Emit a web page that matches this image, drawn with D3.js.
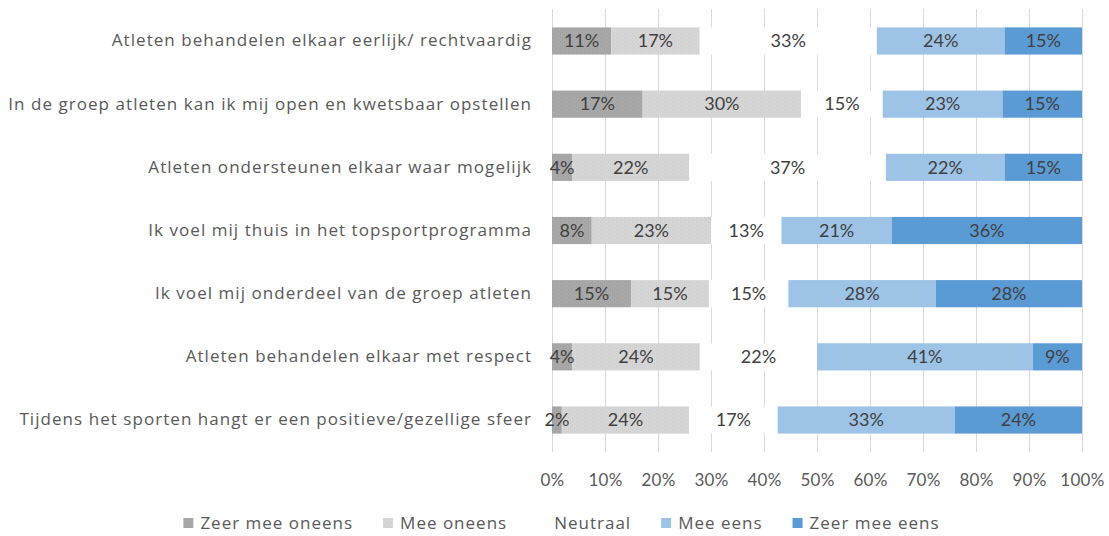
<!DOCTYPE html>
<html>
<head>
<meta charset="utf-8">
<script src="https://cdn.jsdelivr.net/npm/d3@7"></script>
<style>
  body { margin: 0; background: #fff; }
  text { font-family: Lato, "Open Sans", sans-serif; }
</style>
</head>
<body>
<div class="d3-container"></div>
<script>
const categories = [
    "Atleten behandelen elkaar eerlijk/ rechtvaardig",
    "In de groep atleten kan ik mij open en kwetsbaar opstellen",
    "Atleten ondersteunen elkaar waar mogelijk",
    "Ik voel mij thuis in het topsportprogramma",
    "Ik voel mij onderdeel van de groep atleten",
    "Atleten behandelen elkaar met respect",
    "Tijdens het sporten hangt er een positieve/gezellige sfeer"
]
const seriesNames = ["Zeer mee oneens", "Mee oneens", "Neutraal", "Mee eens", "Zeer mee eens"]
const zeerOneens = [11.15, 17.1, 3.8, 7.5, 14.9, 3.8, 1.85]
const meeOneens = [16.7, 29.9, 22.1, 22.5, 14.7, 24.1, 24.0]
const neutraal = [33.4, 15.4, 37.1, 13.3, 15.0, 22.1, 16.7]
const meeEens = [24.1, 22.6, 22.4, 20.8, 27.8, 40.7, 33.4]
const zeerEens = [14.6, 15.0, 14.6, 35.9, 27.6, 9.3, 24.0]
const tickValues = [0, 0.1, 0.2, 0.3, 0.4, 0.5, 0.6, 0.7, 0.8, 0.9, 1]

const W = 1109, H = 536
const margin = {top: 9.4, right: 27, bottom: 84.4, left: 552}
const width = W - margin.left - margin.right
const height = H - margin.top - margin.bottom

const rows = categories.map((c, i) => ({
    cat: c,
    "Zeer mee oneens": zeerOneens[i],
    "Mee oneens": meeOneens[i],
    "Neutraal": neutraal[i],
    "Mee eens": meeEens[i],
    "Zeer mee eens": zeerEens[i]
}))

const svg = d3.select(".d3-container").append("svg")
    .attr("width", W).attr("height", H)

// dotted textures for the grey series
const defs = svg.append("defs")
function texture(id, base, dot) {
    const p = defs.append("pattern").attr("id", id)
        .attr("width", 4).attr("height", 4).attr("patternUnits", "userSpaceOnUse")
    p.append("rect").attr("width", 4).attr("height", 4).attr("fill", base)
    p.append("rect").attr("x", 0).attr("y", 0).attr("width", 1).attr("height", 1).attr("fill", dot)
    p.append("rect").attr("x", 2).attr("y", 2).attr("width", 1).attr("height", 1).attr("fill", dot)
}
texture("darkDots", "#a8a8a8", "#9a9a9a")
texture("lightDots", "#d6d6d6", "#c8c8c8")

const color = d3.scaleOrdinal().domain(seriesNames)
    .range(["url(#darkDots)", "url(#lightDots)", "#ffffff", "#9dc3e6", "#5b9bd5"])

const g = svg.append("g").attr("transform", `translate(${margin.left},${margin.top})`)

const x = d3.scaleLinear().domain([0, 1]).range([0, width])
const y = d3.scaleBand().domain(categories).range([0, height]).paddingInner(0.57).paddingOuter(0.285)

// vertical gridlines
g.append("g").selectAll("line").data(tickValues).join("line")
    .attr("x1", d => x(d)).attr("x2", d => x(d))
    .attr("y1", 0).attr("y2", height)
    .attr("stroke", "#d9d9d9").attr("stroke-width", 1)
    .attr("shape-rendering", "crispEdges")

// x tick labels
const xAxis = g.append("g").attr("transform", `translate(0,${height})`)
    .call(d3.axisBottom(x).tickValues(tickValues).tickFormat(d3.format(".0%")).tickSize(0).tickPadding(22))
xAxis.select(".domain").remove()
xAxis.selectAll("text").attr("font-size", 17).attr("fill", "#595959")
    .style("font-family", "Lato, sans-serif").style("letter-spacing", "0.3px")

// category labels
const yAxis = g.append("g").call(d3.axisLeft(y).tickSize(0).tickPadding(20))
yAxis.select(".domain").remove()
yAxis.selectAll("text").attr("font-size", 17).attr("fill", "#595959")
    .style("font-family", "'Open Sans', sans-serif").style("letter-spacing", "1.05px")

const stack = d3.stack().keys(seriesNames).offset(d3.stackOffsetExpand)
const layers = stack(rows)

const layer = g.append("g").selectAll("g").data(layers).join("g")
    .attr("fill", d => color(d.key))

layer.selectAll("rect").data(d => d).join("rect")
    .attr("x", d => x(d[0]))
    .attr("y", d => y(d.data.cat))
    .attr("width", d => x(d[1]) - x(d[0]))
    .attr("height", y.bandwidth())

// data labels
const labels = g.append("g")
layers.forEach(l => {
    labels.selectAll(null).data(l).join("text")
        .attr("x", d => (x(d[0]) + x(d[1])) / 2)
        .attr("y", d => y(d.data.cat) + y.bandwidth() / 2)
        .attr("dy", "0.35em")
        .attr("text-anchor", "middle")
        .attr("font-size", 18)
        .attr("fill", "#404040")
        .text(d => Math.round(d.data[l.key]) + "%")
})

// legend
const legend = svg.append("g").attr("transform", `translate(0,${H - 13})`)
const items = legend.selectAll("g").data(seriesNames).join("g")
items.append("rect").attr("y", -5).attr("width", 10).attr("height", 10)
    .attr("fill", d => color(d))
items.append("text").attr("x", 17).attr("dy", "0.35em")
    .attr("font-size", 17).attr("fill", "#595959")
    .style("font-family", "'Open Sans', sans-serif").style("letter-spacing", "1px")
    .text(d => d)
let cx = 0
const offs = []
items.each(function () {
    offs.push(cx)
    cx += 17 + this.querySelector("text").getComputedTextLength() + 30
})
const total = cx - 30
const startX = (W - total) / 2 + 7
items.attr("transform", (d, i) => `translate(${startX + offs[i]},0)`)
</script>
</body>
</html>
